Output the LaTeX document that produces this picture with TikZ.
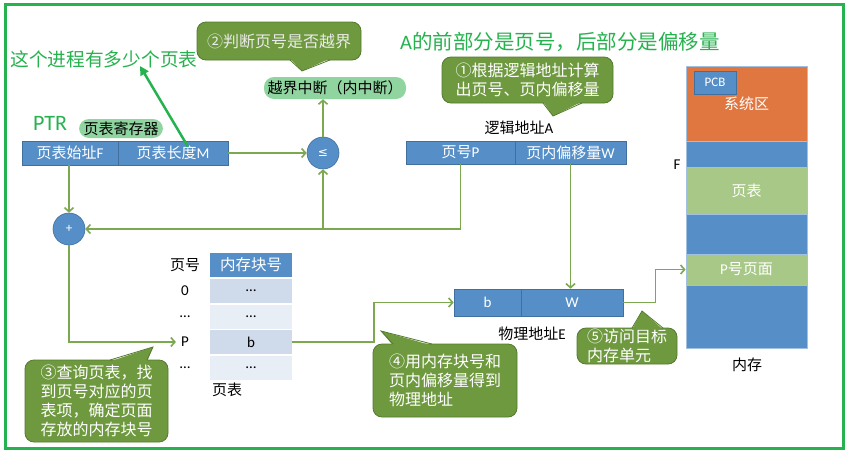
\documentclass[tikz,border=0pt]{standalone}
\usepackage{fontspec}
\setmainfont{Carlito}
\newfontfamily\cjk{Noto Sans CJK SC}
\newfontfamily\symfont{DejaVu Sans}
\usetikzlibrary{arrows.meta}

\newcommand\pxsize[1]{\fontsize{#1}{#1}\selectfont}

\definecolor{blueC}{RGB}{86,143,200}
\definecolor{blueD}{RGB}{66,112,158}
\definecolor{orangeC}{RGB}{224,118,64}
\definecolor{memG}{RGB}{168,200,136}
\definecolor{calG}{RGB}{110,153,62}
\definecolor{calD}{RGB}{84,122,46}
\definecolor{pillG}{RGB}{144,212,160}
\definecolor{connG}{RGB}{124,168,80}
\definecolor{hintG}{RGB}{38,178,78}
\definecolor{rowA}{RGB}{207,218,234}
\definecolor{rowB}{RGB}{232,238,246}

\tikzset{
  cell/.style={draw=blueD, line width=0.6pt, fill=blueC, text=white,
    inner sep=0pt, minimum height=24pt, font=\pxsize{15}},
  opnode/.style={circle, draw=blueD, line width=0.6pt, fill=blueC, text=white,
    minimum size=32pt, inner sep=0pt, font=\pxsize{13}},
  pill/.style={rounded corners=10pt, fill=pillG, text=black, inner sep=0pt,
    font=\pxsize{15}\cjk},
  bubble/.style={fill=calG, draw=calD, line width=0.8pt, rounded corners=9pt,
    text=white, align=left, inner sep=0pt, font=\fontsize{16}{19}\selectfont\cjk},
  tail/.style={fill=calG},
  tailedge/.style={draw=calD, line width=0.8pt},
  memstrip/.style={draw=blueC!55!white, line width=0.8pt, minimum width=121pt,
    inner sep=0pt, text=white, font=\pxsize{15}},
  tcell/.style={inner sep=0pt, minimum width=82pt, minimum height=24pt,
    font=\pxsize{15}},
  plain/.style={inner sep=0pt, text=black, font=\pxsize{15}},
  conn/.style={draw=connG, line width=1.6pt,
    -{Straight Barb[length=4pt,width=9pt]}},
  hint/.style={draw=hintG, line width=2.5pt, -{Triangle[length=9pt,width=9pt]}},
}

\begin{document}
\begin{tikzpicture}[x=1pt,y=-1pt]
\useasboundingbox (0,0) rectangle (846,453);
\fill[white] (0,0) rectangle (846,453);

% outer frame
\draw[hintG, line width=3pt] (5,4.5) rectangle (843.5,448.5);

% headings in green
\node[inner sep=0pt, text=hintG, font=\pxsize{18.7}\cjk] (ques) at (104,59) {这个进程有多少个页表};
\node[inner sep=0pt, anchor=west, text=hintG, font=\pxsize{20.5}] (note) at (400,42)
  {A{\cjk 的前部分是页号，后部分是偏移量}};
\node[inner sep=0pt, text=hintG, font=\pxsize{22}] (ptr) at (50,123) {PTR};

% page table register
\node[pill, minimum width=84pt, minimum height=19pt] (reg) at (121,128.5) {页表寄存器};
\node[cell, minimum width=96pt] (ptrF) at (70,153) {{\cjk 页表始址}F};
\node[cell, minimum width=110pt] (ptrM) at (173,153) {{\cjk 页表长度}M};

% comparator and adder
\node[opnode, font=\pxsize{12}\symfont] (le) at (323,153) {≤};
\node[opnode] (plus) at (69,229) {+};

% bound check result
\node[pill, minimum width=142pt, minimum height=22pt] (brk) at (335,88) {越界中断（内中断）};

% logical address
\node[plain] (lalabel) at (519,128) {{\cjk 逻辑地址}A};
\node[cell, minimum width=109pt, minimum height=23pt] (lP) at (460.5,152.5) {{\cjk 页号}P};
\node[cell, minimum width=111pt, minimum height=23pt] (lW) at (570.5,152.5) {{\cjk 页内偏移量}W};

% page table
\node[plain] (pH) at (185,265) {\cjk 页号};
\node[plain] (p0) at (185,291) {0};
\node[plain] (pD1) at (185,317) {…};
\node[plain, inner sep=5pt] (pP) at (185,342) {P};
\node[plain] (pD2) at (185,368) {…};
\node[tcell, fill=blueC, text=white, font=\pxsize{15.5}\cjk] (tH) at (251,265) {内存块号};
\node[tcell, fill=rowA] (r0) at (251,291) {…};
\node[tcell, fill=rowB] (r1) at (251,316.5) {…};
\node[tcell, fill=rowA] (rb) at (251,342) {b};
\node[tcell, fill=rowB] (r3) at (251,368) {…};
\node[plain, font=\pxsize{15}\cjk] (ptlabel) at (227,390) {页表};

% physical address
\node[cell, minimum width=67pt, minimum height=27pt] (pb) at (487.5,302.5) {b};
\node[cell, minimum width=102pt, minimum height=27pt] (pW) at (572,302.5) {W};
\node[plain] (palabel) at (532,334) {{\cjk 物理地址}E};

% main memory
\node[memstrip, fill=orangeC, minimum height=75pt] (mSys) at (746.5,103.5) {\cjk 系统区};
\node[draw=blueD, line width=0.6pt, fill=blueC, text=white, inner sep=0pt,
  minimum width=42pt, minimum height=23pt, font=\pxsize{13}] (pcb) at (715,82.5) {PCB};
\node[memstrip, fill=blueC, minimum height=26pt] (m1) at (746.5,154) {};
\node[memstrip, fill=memG, minimum height=47pt] (mPT) at (746.5,190.5) {\cjk 页表};
\node[memstrip, fill=blueC, minimum height=40pt] (m2) at (746.5,234) {};
\node[memstrip, fill=memG, minimum height=31pt] (mP) at (746.5,269.5) {P{\cjk 号页面}};
\node[memstrip, fill=blueC, minimum height=63pt] (m3) at (746.5,316.5) {};
\node[plain] (fmark) at (677,165) {F};
\node[plain, font=\pxsize{15}\cjk] (memlabel) at (747,365) {内存};

% connectors
\draw[conn] (plus |- ptrF.south) -- (plus.north);
\draw[conn] (ptrM.east) -- (le.west);
\draw[conn] (le.north) -- (le |- brk.south);
\draw[conn] (lP.south) |- (plus.east);
\draw[conn] (le |- plus.east) -- (le.south);
\draw[conn] (plus.south) |- (pP.west);
\draw[conn] (rb.east) -- ++(82,0) |- (pb.west);
\draw[conn] (lW.south) -- (lW.south |- pW.north);
\draw[conn] (pW.east) -- ++(32,0) |- (mP.west);

% hint arrow from the length field to the question
\coordinate (qend) at (140,66);
\draw[hint] ([shift={(15,6)}]ptrM.north) -- (qend);

% callouts
\node[bubble, minimum width=164pt, minimum height=38pt, text=white!92!black] (c2) at (279,41) {②判断页号是否越界};
\fill[tail] (290,58.5) -- (302,71) -- (330,58.5) -- cycle;
\draw[tailedge] (290,60) -- (302,71) -- (330,60);

\node[bubble, minimum width=171pt, minimum height=46pt] (c1) at (527.5,80)
  {①根据逻辑地址计算\\出页号、页内偏移量};
\fill[tail] (543,101.5) -- (553,116) -- (582,101.5) -- cycle;
\draw[tailedge] (543,103) -- (553,116) -- (582,103);

\node[bubble, minimum width=143pt, minimum height=82pt] (c3) at (96.5,401)
  {③查询页表，找\\到页号对应的页\\表项，确定页面\\存放的内存块号};
\fill[tail] (110,361.5) -- (153,347) -- (147,361.5) -- cycle;
\draw[tailedge] (110,360) -- (153,347) -- (147,360);

\node[bubble, minimum width=144pt, minimum height=73pt] (c4) at (445,380.5)
  {④用内存块号和\\页内偏移量得到\\物理地址};
\fill[tail] (393,345.5) -- (381,331) -- (432,345.5) -- cycle;
\draw[tailedge] (393,344) -- (381,331) -- (432,344);

\node[bubble, minimum width=100pt, minimum height=36pt] (c5) at (627,346)
  {⑤访问目标\\内存单元};
\fill[tail] (632,329.5) -- (642,311) -- (663,329.5) -- cycle;
\draw[tailedge] (632,328) -- (642,311) -- (663,328);

\end{tikzpicture}
\end{document}
